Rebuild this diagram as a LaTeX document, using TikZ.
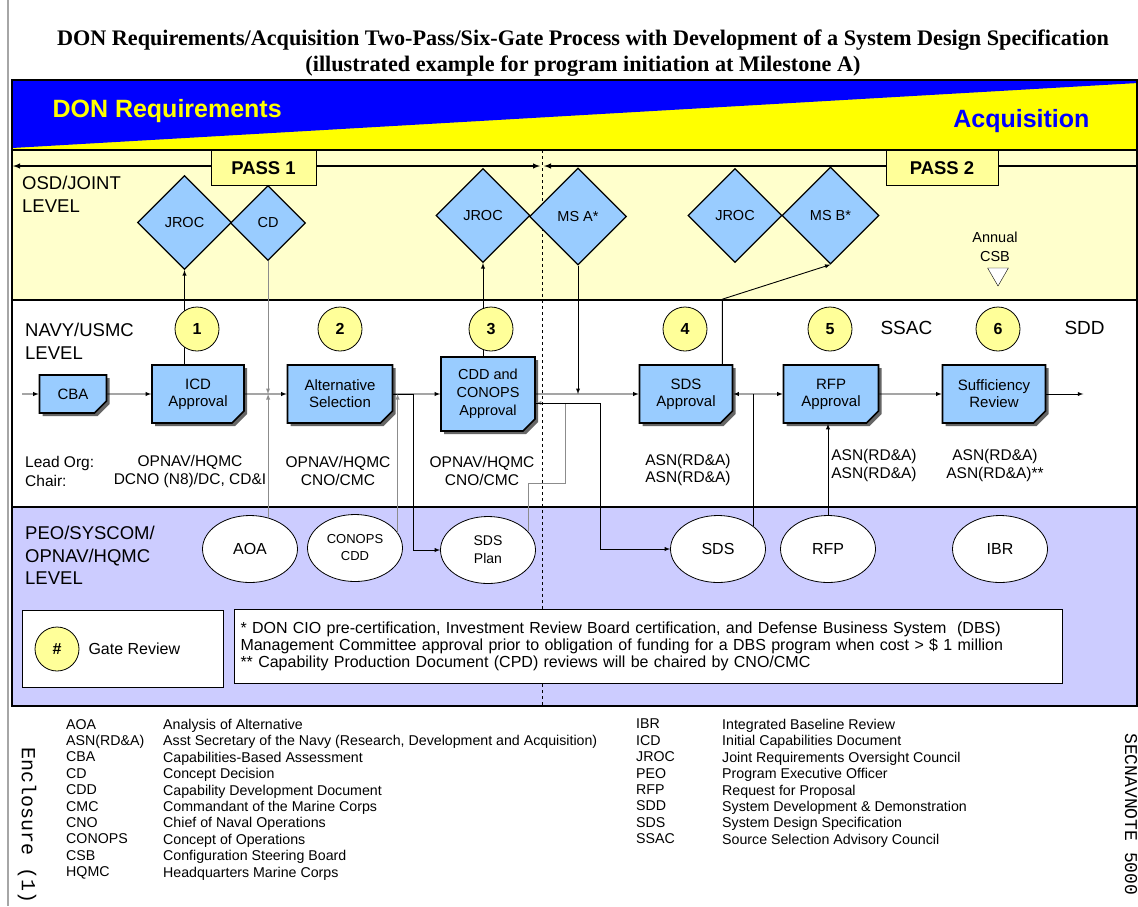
\documentclass[tikz,border=0pt]{standalone}
\usepackage{fontspec}
\setmainfont{Liberation Sans}
\newfontfamily\titlefont{Liberation Serif}
\newfontfamily\encfont{Liberation Mono}
\usepackage{tikz}
\usetikzlibrary{arrows,shapes,shadows,calc,positioning}
\definecolor{hdrblue}{HTML}{0000FF}
\definecolor{hdryellow}{HTML}{FFFF00}
\definecolor{osdband}{HTML}{FFFFCC}
\definecolor{peoband}{HTML}{CCCCFF}
\definecolor{boxblue}{HTML}{99CCFF}
\definecolor{gatefill}{HTML}{FFFF99}
\newcommand{\pxsize}[2]{\fontsize{#1}{#2}\selectfont}
\begin{document}
\begin{tikzpicture}[x=1pt,y=-1pt,>=latex,
docbox/.style={chamfered rectangle,chamfered rectangle corners=south east,
chamfered rectangle xsep=6pt,chamfered rectangle ysep=6pt,
draw,line width=1.6pt,fill=boxblue,align=center,inner sep=1pt,
font=\pxsize{15}{17},
drop shadow={shadow xshift=3pt,shadow yshift=-3pt,fill=black!60,opacity=1},
path picture={\draw[line width=.6pt,fill=white]
([xshift=-6pt]path picture bounding box.south east) --
([xshift=-6pt,yshift=6pt]path picture bounding box.south east) --
([yshift=6pt]path picture bounding box.south east);}},
gatediamond/.style={diamond,draw,line width=1.2pt,fill=boxblue,
minimum size=94pt,inner sep=0pt,font=\pxsize{14.5}{16}},
gatecirc/.style={circle,draw,line width=.8pt,fill=gatefill,
minimum size=44pt,inner sep=0pt,font=\pxsize{16}{18}\bfseries},
docell/.style={ellipse,draw,line width=.8pt,fill=white,minimum width=95pt,
minimum height=67pt,inner sep=0pt,align=center,font=\pxsize{16}{17}},
passbox/.style={draw,line width=1pt,fill=gatefill,minimum width=105pt,
minimum height=35pt,font=\pxsize{18.5}{20}\bfseries},
lvl/.style={anchor=west,align=left,inner sep=0pt,font=\pxsize{18.5}{23}},
org/.style={align=center,inner sep=0pt,font=\pxsize{15.5}{18}},
abbr/.style={anchor=north west,align=left,inner sep=0pt,font=\pxsize{14.2}{16.4}},
flow/.style={->,line width=.9pt},
gflow/.style={flow,draw=black!45}]
\useasboundingbox (0,0) rectangle (1138,906);
\fill[osdband] (12,150) rectangle (1138,300);
\fill[white] (12,300) rectangle (1138,507);
\fill[peoband] (12,507) rectangle (1138,706);
\fill[hdryellow] (12,80) rectangle (1138,150);
\fill[hdrblue] (12,80) -- (1138,80) -- (1138,83) -- (12,148) -- cycle;
\draw[line width=1.2pt] (12,80) rectangle (1137,706);
\draw[line width=1.2pt] (12,150) -- (1137,150) (12,300) -- (1137,300) (12,507) -- (1137,507);
\draw[black!35,line width=1.5pt] (8,0) -- (8,906);
\draw[dashed,line width=1pt] (542,150) -- (542,706);

\node[font=\titlefont\bfseries\pxsize{22.2}{26},align=center] (title) at (583,53)
{DON Requirements/Acquisition Two-Pass/Six-Gate Process with Development of a System Design Specification\\
(illustrated example for program initiation at Milestone A)};
\node[anchor=west,text=hdryellow,font=\bfseries\pxsize{25}{25}] (donreq) at (49,111) {DON Requirements};
\node[anchor=east,text=hdrblue,font=\bfseries\pxsize{25}{25}] (acq) at (1093,121) {Acquisition};

\coordinate (p1l) at (13,166);
\coordinate (p1r) at (540,166);
\coordinate (p2l) at (544,166);
\coordinate (p2r) at (1137,166);
\draw[<->,line width=1.4pt] (p1l) -- (p1r);
\draw[<-,line width=1.4pt] (p2l) -- (p2r);
\node[passbox] (pass1) at (263.5,168) {PASS 1};
\node[passbox,minimum width=112pt] (pass2) at (942,168) {PASS 2};

\node[lvl] (osd) at (22,194) {OSD/JOINT\\LEVEL};
\node[lvl] (navy) at (25,341) {NAVY/USMC\\LEVEL};
\node[lvl,font=\pxsize{18.5}{22.5}] (peo) at (25,555.5) {PEO/SYSCOM/\\OPNAV/HQMC\\LEVEL};

\node[gatediamond] (jroc1) at (184.5,222.5) {JROC};
\node[gatediamond,minimum size=75pt] (cd) at (268,223) {CD};
\node[gatediamond] (jroc2) at (483,215.5) {JROC};
\node[gatediamond,minimum size=97pt] (msa) at (578,216.5) {MS A*};
\node[gatediamond] (jroc3) at (735,215.5) {JROC};
\node[gatediamond,minimum size=97pt] (msb) at (830.5,215.5) {MS B*};

\node[align=center,font=\pxsize{14.5}{19}] (csb) at (995,246.5) {Annual\\CSB};
\node[regular polygon,regular polygon sides=3,shape border rotate=180,draw,
fill=white,minimum size=24pt,inner sep=0pt] (csbtri) at (998,274) {};

\node[docbox,minimum width=67pt,minimum height=38pt] (cba) at (73,394) {CBA};
\node[docbox,minimum width=92pt,minimum height=58pt] (icd) at (198,394) {ICD\\Approval};
\node[docbox,minimum width=105pt,minimum height=58pt] (alt) at (340,394) {Alternative\\Selection};
\node[docbox,minimum width=94pt,minimum height=74pt,font=\pxsize{14.5}{18}] (cdd) at (488,394) {CDD and\\CONOPS\\Approval};
\node[docbox,minimum width=93pt,minimum height=58pt] (sds) at (686,394) {SDS\\Approval};
\node[docbox,minimum width=95pt,minimum height=58pt] (rfp) at (831,394) {RFP\\Approval};
\node[docbox,minimum width=103pt,minimum height=58pt] (suff) at (994,394) {Sufficiency\\Review};

\node[docell] (aoa) at (250,549) {AOA};
\node[docell,font=\pxsize{13}{17}] (conops) at (355,548) {CONOPS\\CDD};
\node[docell,font=\pxsize{14}{18}] (sdsplan) at (488,550) {SDS\\Plan};
\node[docell] (sdsell) at (718,549) {SDS};
\node[docell] (rfpell) at (828,549) {RFP};
\node[docell] (ibr) at (1000,549) {IBR};

\node[org,anchor=west,align=left,font=\pxsize{15.5}{19}] (leadlbl) at (25,471) {Lead Org:\\Chair:};
\node[org] (org1) at (190,471) {OPNAV/HQMC\\DCNO (N8)/DC, CD\&I};
\node[org] (org2) at (338,471) {OPNAV/HQMC\\CNO/CMC};
\node[org] (org3) at (482,471) {OPNAV/HQMC\\CNO/CMC};
\node[org,font=\pxsize{15.5}{16.5}] (org4) at (688,470) {ASN(RD\&A)\\ASN(RD\&A)};
\node[org] (org5) at (874,465) {ASN(RD\&A)\\ASN(RD\&A)};
\node[org] (org6) at (995,465) {ASN(RD\&A)\\ASN(RD\&A)**};
\node[anchor=west,font=\pxsize{19}{20}] (ssac) at (877,328) {SSAC};
\node[anchor=west,font=\pxsize{19}{20}] (sdd) at (1061,328) {SDD};

\coordinate (cbain) at (22,394);
\draw[flow] (cbain) -- (cba);
\draw[flow] (cba) -- (icd);
\draw[flow] (icd) -- (alt);
\draw[gflow] (cd) -- (cd |- icd.east);
\draw[gflow] (aoa.60) -- (aoa.60 |- icd.east);
\draw[flow] (icd.north -| jroc1.south) -- (jroc1.south);
\draw[flow] (alt) -- (cdd);
\draw[flow] (alt.east) -- ++(20,0) |- (sdsplan.west);
\draw[gflow] (conops.20) -- (conops.20 |- alt.east);
\draw[flow] (cdd.north -| jroc2.south) -- (jroc2.south);
\draw[flow] (msa) -- (msa |- cdd.east);
\draw[flow] (cdd) -- (sds);
\coordinate (cddin) at ($(cdd.east)+(0,9)$);
\draw[gflow] (sdsplan.25) -- ++(0,-48) -| ($(cddin)+(30,0)$) -- (cddin);
\draw[flow] (cddin) -- ++(65,0) |- (sdsell.west);
\draw[line width=.9pt] (sdsell.33) -- (sdsell.33 |- sds.east);
\draw[flow,<->] (sds) -- (rfp);
\draw[flow] (rfpell.north) -- (rfpell.north |- rfp.south);
\draw[flow] (rfp) -- (suff);
\draw[flow] (suff.east) -- ++(37,0);
\draw[flow] ($(sds.north east)+(-11,0)$) -- ++(0,-65) -- (msb.south);

\node[gatecirc] (g1) at (197,329) {1};
\node[gatecirc] (g2) at (340,329) {2};
\node[gatecirc] (g3) at (491,329) {3};
\node[gatecirc] (g4) at (685,329) {4};
\node[gatecirc] (g5) at (830,329) {5};
\node[gatecirc] (g6) at (998,329) {6};

\node[draw,fill=white,line width=.8pt,minimum width=201pt,minimum height=77pt] (legend) at (123,649) {};
\node[gatecirc] (legcirc) at (57,649) {\#};
\node[anchor=west,font=\pxsize{16}{18}] (leglbl) at (85,649) {Gate Review};
\node[draw,fill=white,line width=.8pt,minimum height=74pt,text width=816pt,
inner xsep=6pt,align=left,font=\pxsize{16}{17}] (note) at (648.5,646)
{* DON CIO pre-certification, Investment Review Board certification, and Defense Business System\ \ (DBS)\\
Management Committee approval prior to obligation of funding for a DBS program when cost > \$ 1 million\\
{}** Capability Production Document (CPD) reviews will be chaired by CNO/CMC};

\node[abbr] (abbl) at (66,719) {AOA\\ASN(RD\&A)\\CBA\\CD\\CDD\\CMC\\CNO\\CONOPS\\CSB\\HQMC};
\node[abbr] (descl) at (163,719) {Analysis of Alternative\\
Asst Secretary of the Navy (Research, Development and Acquisition)\\
Capabilities-Based Assessment\\Concept Decision\\Capability Development Document\\
Commandant of the Marine Corps\\Chief of Naval Operations\\Concept of Operations\\
Configuration Steering Board\\Headquarters Marine Corps};
\node[abbr] (abbr) at (636,719) {IBR\\ICD\\JROC\\PEO\\RFP\\SDD\\SDS\\SSAC};
\node[abbr] (descr) at (722,719) {Integrated Baseline Review\\Initial Capabilities Document\\
Joint Requirements Oversight Council\\Program Executive Officer\\Request for Proposal\\
System Development \& Demonstration\\System Design Specification\\Source Selection Advisory Council};
\node[rotate=-90,anchor=west,inner sep=0pt,font=\encfont\pxsize{20}{20}] (encl) at (27,747) {Enclosure (1)};
\node[rotate=-90,anchor=west,inner sep=0pt,font=\encfont\pxsize{18}{18}] (secnav) at (1131,733) {SECNAVNOTE 5000};
\end{tikzpicture}
\end{document}
